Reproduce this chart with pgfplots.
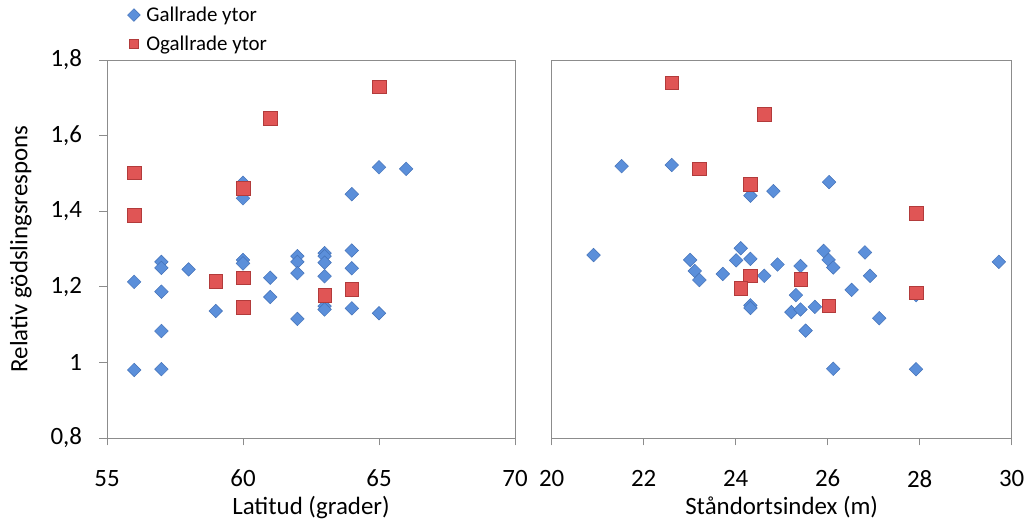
\documentclass[border=0pt]{standalone}
\usepackage{pgfplots}
\pgfplotsset{compat=1.18}
\usepackage{fontspec}
\setmainfont{Carlito}
\definecolor{axgray}{HTML}{8C8C8C}
\definecolor{bluefill}{HTML}{5B8FDA}
\definecolor{blueedge}{HTML}{4472B8}
\definecolor{redfill}{HTML}{E05555}
\definecolor{rededge}{HTML}{B23B3B}

\pgfplotstableread{
x y
56 0.980
56 1.213
57 1.266
57 1.250
57 1.187
57 1.083
57 0.982
58 1.246
59 1.136
60 1.475
60 1.434
60 1.271
60 1.262
61 1.224
61 1.173
62 1.281
62 1.266
62 1.236
62 1.115
63 1.289
63 1.281
63 1.264
63 1.228
63 1.149
63 1.140
64 1.445
64 1.296
64 1.249
64 1.143
65 1.516
65 1.130
66 1.512
}\latblue
\pgfplotstableread{
x y
56 1.502
56 1.390
59 1.215
60 1.461
60 1.224
60 1.146
61 1.646
63 1.178
64 1.194
65 1.729
}\latred
\pgfplotstableread{
x y
20.91 1.284
21.52 1.519
22.61 1.522
23.01 1.271
23.11 1.242
23.21 1.218
23.72 1.234
24.01 1.270
24.11 1.302
24.32 1.274
24.32 1.441
24.32 1.151
24.32 1.144
24.62 1.229
24.82 1.453
24.91 1.259
25.21 1.133
25.31 1.178
25.41 1.255
25.41 1.140
25.52 1.084
25.72 1.147
25.91 1.295
26.02 1.271
26.03 1.477
26.12 1.251
26.12 0.983
26.52 1.192
26.81 1.291
26.92 1.229
27.12 1.117
27.92 1.178
27.92 0.982
29.72 1.266
}\siblue
\pgfplotstableread{
x y
22.61 1.740
24.62 1.656
23.21 1.512
24.32 1.472
27.92 1.394
24.32 1.229
24.11 1.196
25.41 1.220
26.02 1.150
27.92 1.184
}\sired

\pgfplotsset{
  myax/.style={
    scale only axis,
    height=378bp,
    ymin=0.8, ymax=1.8,
    axis line style={axgray, line width=0.8pt},
    tick align=outside,
    major tick length=7.5bp,
    every tick/.style={axgray, line width=0.8pt},
    xtick pos=bottom,
    ytick pos=left,
    tick label style={font=\fontsize{25}{29}\selectfont, black},
    label style={font=\fontsize{25}{30}\selectfont, black},
    xticklabel style={yshift=-21bp},
    clip=false,
  },
  gall/.style={only marks, mark=square*, mark size=4.8bp,
    mark options={rotate=45, fill=bluefill, draw=blueedge, line width=0.5pt}},
  ogall/.style={only marks, mark=square*, mark size=6.8bp,
    mark options={fill=redfill, draw=rededge, line width=0.5pt}},
}

\begin{document}
\begin{tikzpicture}
\path[use as bounding box] (0,0) rectangle (1029bp,524bp);
\begin{axis}[myax,
  at={(107bp,86bp)}, anchor=south west,
  width=408bp,
  xmin=55, xmax=70,
  xtick={55,60,65,70},
  xticklabels={55,60,65,70},
  ytick={0.8,1,1.2,1.4,1.6,1.8},
  yticklabels={{0,8},{1},{1,2},{1,4},{1,6},{1,8}},
  yticklabel style={xshift=-14bp},
  xlabel={Latitud (grader)},
  ylabel={Relativ gödslingsrespons},
  xlabel style={at={(0.5,0)}, anchor=base, yshift=-76bp},
  ylabel style={at={(axis description cs:-0.211,0.5)}, anchor=center},
  legend style={draw=none, fill=none, at={(0.05,1.146)}, anchor=north west,
    font=\fontsize{21}{25}\selectfont, inner sep=0pt, row sep=9bp,
    legend cell align=left,
    nodes={inner xsep=6bp}},
  legend image code/.code={\draw[#1, mark size=4.5bp] plot coordinates {(0.2cm,0cm)};},
]
\addplot[gall] table {\latblue};
\addlegendentry{Gallrade ytor}
\addplot[ogall] table {\latred};
\addlegendentry{Ogallrade ytor}
\end{axis}
\begin{axis}[myax,
  at={(551.7bp,86bp)}, anchor=south west,
  width=460bp,
  xmin=20, xmax=30,
  xtick={20,22,24,26,28,30},
  xticklabels={20,22,24,26,28,30},
  ytick=\empty,
  xlabel={Ståndortsindex (m)},
  xlabel style={at={(0.5,0)}, anchor=base, yshift=-76bp},
]
\addplot[gall] table {\siblue};
\addplot[ogall] table {\sired};
\end{axis}
\end{tikzpicture}
\end{document}
